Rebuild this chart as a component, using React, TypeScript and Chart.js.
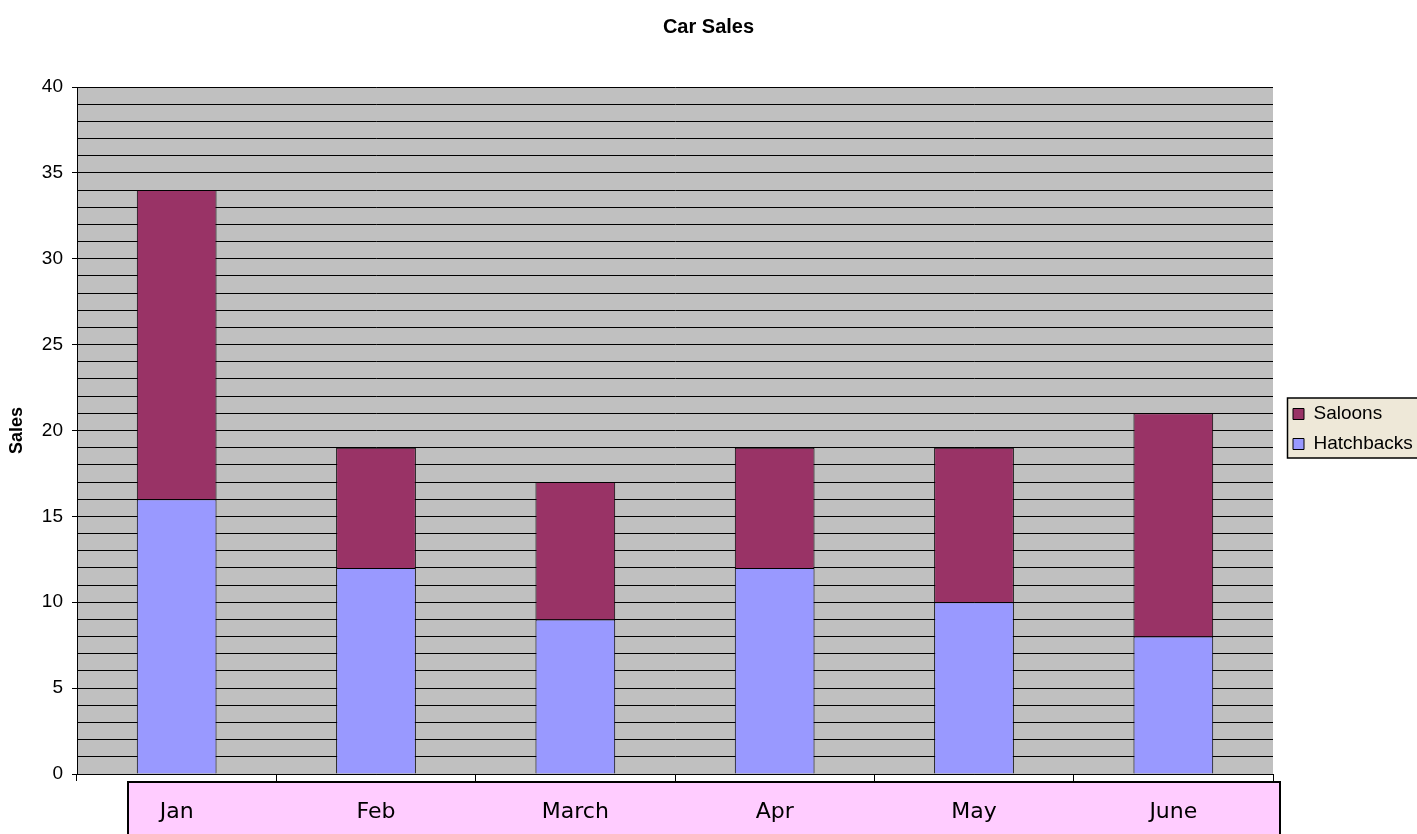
import React, { useEffect, useRef } from "react";
import { Chart, registerables } from "chart.js";

Chart.register(...registerables);

const categories = ["Jan", "Feb", "March", "Apr", "May", "June"];
const hatchbacks = [16, 12, 9, 12, 10, 8];
const saloons = [18, 7, 8, 7, 9, 13];
const yMax = 40;

const LEGEND_W = 144;

const decorPlugin = {
  id: "decor",
  beforeLayout(chart: any) {
    const lg = chart.legend;
    if (lg && !lg.__patched) {
      const orig = lg.fit.bind(lg);
      lg.fit = function () {
        orig();
        this.width = LEGEND_W;
      };
      lg.__patched = true;
    }
  },
  afterLayout(chart: any) {
    const lg = chart.legend;
    const ca = chart.chartArea;
    if (lg) {
      const mid = (ca.top + ca.bottom) / 2;
      const h = lg.bottom - lg.top;
      lg.left = ca.right + 9;
      lg.right = lg.left + LEGEND_W;
      lg.top = mid - 37;
      lg.bottom = lg.top + h;
    }
  },
  beforeDraw(chart: any) {
    const { ctx, chartArea, legend } = chart;
    ctx.save();
    ctx.fillStyle = "#C0C0C0";
    ctx.fillRect(chartArea.left, chartArea.top, chartArea.right - chartArea.left, chartArea.bottom - chartArea.top);
    // x label band
    ctx.fillStyle = "#FFCCFF";
    ctx.strokeStyle = "#000";
    ctx.lineWidth = 2;
    const bx = chartArea.left + 51;
    const by = chartArea.bottom + 8;
    const bw = chartArea.right + 7 - bx;
    const bh = chart.height - by + 10;
    ctx.fillRect(bx, by, bw, bh);
    ctx.strokeRect(bx, by, bw, bh);
    // legend box
    if (legend) {
      const lx = chartArea.right + 14.5;
      const ly = legend.top + 4.5;
      ctx.fillStyle = "#EEE8D8";
      ctx.lineWidth = 1.5;
      ctx.fillRect(lx, ly, chart.width - lx + 5, 60);
      ctx.strokeRect(lx, ly, chart.width - lx + 5, 60);
    }
    ctx.restore();
  },
};

export default function App() {
  const ref = useRef<HTMLCanvasElement>(null);
  useEffect(() => {
    if (!ref.current) return;
    const chart = new Chart(ref.current, {
      type: "bar",
      data: {
        labels: categories,
        datasets: [
          {
            label: "Hatchbacks",
            data: hatchbacks,
            backgroundColor: "#9999FF",
            borderColor: "#000",
            borderWidth: 1,
          },
          {
            label: "Saloons",
            data: saloons,
            backgroundColor: "#993366",
            borderColor: "#000",
            borderWidth: 1,
          },
        ],
      },
      options: {
        responsive: false,
        animation: false,
        devicePixelRatio: 1,
        datasets: { bar: { barPercentage: 0.4, categoryPercentage: 1 } },
        layout: { padding: { left: 0, right: 0, top: 0, bottom: 0 } },
        plugins: {
          title: {
            display: true,
            text: "Car Sales",
            color: "#000",
            font: { family: "'Liberation Sans', Arial, sans-serif", size: 20, weight: "bold" },
            padding: { top: 15, bottom: 48 },
          },
          legend: {
            position: "right",
            align: "start",
            reverse: true,
            labels: {
              color: "#000",
              boxWidth: 11,
              boxHeight: 11,
              padding: 11,
              font: { family: "'Liberation Sans', Arial, sans-serif", size: 19 },
            },
          },
          tooltip: { enabled: false },
        },
        scales: {
          x: {
            stacked: true,
            grid: {
              offset: true,
              drawOnChartArea: false,
              drawTicks: true,
              tickLength: 7,
              tickColor: "#000",
              color: "#000",
            },
            border: { display: true, color: "#000", width: 1 },
            ticks: {
              color: "#000",
              padding: 18,
              font: { family: "'Comic Sans MS', 'DejaVu Sans', sans-serif", size: 22 },
            },
            afterFit(scale: any) {
              scale.height = 60;
            },
          },
          y: {
            stacked: true,
            min: 0,
            max: yMax,
            title: {
              display: true,
              text: "Sales",
              color: "#000",
              font: { family: "'Liberation Sans', Arial, sans-serif", size: 18, weight: "bold" },
              padding: { top: 6, bottom: 0 },
            },
            grid: {
              color: "#000",
              lineWidth: 1,
              drawTicks: true,
              tickLength: 5,
              tickColor: (c: any) => (c.tick && c.tick.value % 5 === 0 ? "#000" : "rgba(0,0,0,0)"),
            },
            border: { display: true, color: "#000", width: 1 },
            ticks: {
              stepSize: 1,
              autoSkip: false,
              color: "#000",
              padding: 9,
              font: { family: "'Liberation Sans', Arial, sans-serif", size: 19 },
              callback: (v: any) => (Number(v) % 5 === 0 ? String(v) : ""),
            },
            afterFit(scale: any) {
              scale.width = 77;
            },
          },
        },
      },
      plugins: [decorPlugin],
    });
    return () => chart.destroy();
  }, []);
  return (
    <div style={{ position: "absolute", left: 0, top: 0, width: 1417, height: 834, background: "#fff" }}>
      <canvas ref={ref} width={1417} height={834} style={{ display: "block" }} />
    </div>
  );
}
